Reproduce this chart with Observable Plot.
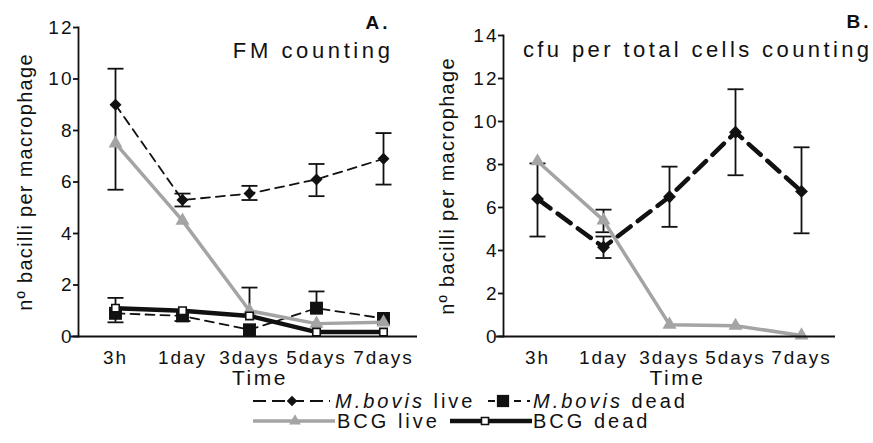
<!DOCTYPE html>
<html><head><meta charset="utf-8">
<script src="https://cdn.jsdelivr.net/npm/d3@7"></script>
<script src="https://cdn.jsdelivr.net/npm/@observablehq/plot@0.6"></script>
<style>
body{margin:0;background:#fff;}
#wrap{position:relative;width:873px;height:443px;overflow:hidden;font-family:"Liberation Sans",Arial,sans-serif;}
#wrap > svg{position:absolute;overflow:visible;}
</style></head><body><div id="wrap"></div>
<script>
// ---------- data ----------
const times = ["3h","1day","3days","5days","7days"];
// Panel A: FM counting
const aBovisLive   = [9.0, 5.3, 5.55, 6.1, 6.9];
const aBovisLiveHi = [10.4, 5.55, 5.85, 6.7, 7.9];
const aBovisLiveLo = [5.7, 5.05, 5.3, 5.45, 5.9];
const aBovisDead   = [0.9, 0.8, 0.26, 1.1, 0.7];
const aBovisDeadHi = [1.5, 1.0, null, 1.75, null];
const aBovisDeadLo = [0.55, 0.6, null, null, null];
const aBcgLive     = [7.5, 4.5, 1.0, 0.5, 0.55];
const aBcgLiveHi   = [null, null, 1.9, null, null];
const aBcgDead     = [1.1, 1.0, 0.8, 0.17, 0.17];
// Panel B: cfu per total cells counting
const bBovisLive   = [6.4, 4.15, 6.5, 9.5, 6.75];
const bBovisLiveHi = [8.05, 4.65, 7.9, 11.5, 8.8];
const bBovisLiveLo = [4.65, 3.65, 5.1, 7.5, 4.8];
const bBcgLive     = [8.15, 5.4, 0.55, 0.5, 0.05];
const bBcgLiveHi   = [null, 5.9, null, null, null];
const bBcgLiveLo   = [null, 4.85, null, null, null];
const yTicksA = [0, 2, 4, 6, 8, 10, 12];
const yTicksB = [0, 2, 4, 6, 8, 10, 12, 14];
const yDomainA = [0, 12];
const yDomainB = [0, 14];
const titleA = ["A.", "FM counting"];
const titleB = ["B.", "cfu per total cells counting"];
const yLabel = "nº bacilli per macrophage";
const xLabel = "Time";
const legendNames = ["M.bovis live", "M.bovis dead", "BCG live", "BCG dead"];

// ---------- styles ----------
const FONT = '"Liberation Sans", Arial, Helvetica, sans-serif';
const INK = "#111";
const GREY = "#a4a4a4";
const sBovisLiveA = {stroke: INK, strokeWidth: 1.8, strokeDasharray: "9,6"};
const sBovisLiveB = {stroke: INK, strokeWidth: 4.5, strokeDasharray: "16,9"};
const sBovisDead  = {stroke: INK, strokeWidth: 1.8, strokeDasharray: "9,6"};
const sBcgLive    = {stroke: GREY, strokeWidth: 3.5};
const sBcgDead    = {stroke: INK, strokeWidth: 4.5};

const cap = {draw(ctx) { ctx.moveTo(-8, 0); ctx.lineTo(8, 0); }};

function rows(vals) { return times.map((t, i) => ({t, v: vals[i]})); }
function errMarks(vals, hi, lo) {
  const bars = [], caps = [];
  times.forEach((t, i) => {
    const h = hi && hi[i] != null ? hi[i] : null;
    const l = lo && lo[i] != null ? lo[i] : null;
    if (h == null && l == null) return;
    bars.push({t, hi: h ?? vals[i], lo: l ?? vals[i]});
    if (h != null) caps.push({t, v: h});
    if (l != null) caps.push({t, v: l});
  });
  return [
    Plot.ruleX(bars, {x: "t", y1: "lo", y2: "hi", stroke: INK, strokeWidth: 1.8}),
    Plot.dot(caps, {x: "t", y: "v", symbol: cap, r: 5, stroke: INK, strokeWidth: 1.8, fill: "none"})
  ];
}
function axes(ticks, labelDx, timeDx) {
  return [
    Plot.axisY(ticks, {tickSize: 5, tickPadding: 0, fontSize: 19, label: null, stroke: INK, strokeWidth: 1.8, fill: INK}),
    Plot.axisX({tickSize: 0, tickPadding: 14, fontSize: 19, label: null, fill: INK}),
    Plot.frame({anchor: "left", stroke: INK, strokeWidth: 1.8}),
    Plot.ruleY([0], {stroke: INK, strokeWidth: 1.8, insetLeft: -7}),
    Plot.text([yLabel], {frameAnchor: "left", rotate: -90, dx: labelDx, textAnchor: "middle", lineAnchor: "middle", fontSize: 20, fill: INK}),
    Plot.text([xLabel], {frameAnchor: "bottom", dx: timeDx, dy: 48, lineAnchor: "bottom", fontSize: 21, fill: INK})
  ];
}

const wrap = document.getElementById("wrap");

// ---------- panel A ----------
const plotA = Plot.plot({
  width: 430, height: 392,
  marginLeft: 78, marginRight: 13, marginTop: 27, marginBottom: 56,
  style: {fontFamily: FONT, background: "transparent", overflow: "visible"},
  x: {type: "point", domain: times, range: [114, 383], padding: 0},
  y: {domain: yDomainA, range: [336, 27]},
  marks: [
    ...errMarks(aBovisLive, aBovisLiveHi, aBovisLiveLo),
    Plot.line(rows(aBovisLive), {x: "t", y: "v", ...sBovisLiveA}),
    Plot.dot(rows(aBovisLive), {x: "t", y: "v", symbol: "diamond2", r: 5.4, fill: INK, stroke: "none"}),
    ...errMarks(aBovisDead, aBovisDeadHi, aBovisDeadLo),
    Plot.line(rows(aBovisDead), {x: "t", y: "v", ...sBovisDead}),
    Plot.dot(rows(aBovisDead), {x: "t", y: "v", symbol: "square", r: 7.3, fill: INK, stroke: "none"}),
    ...errMarks(aBcgLive, aBcgLiveHi, null),
    Plot.line(rows(aBcgLive), {x: "t", y: "v", ...sBcgLive}),
    Plot.dot(rows(aBcgLive), {x: "t", y: "v", symbol: "triangle", r: 5.2, fill: GREY, stroke: "none"}),
    Plot.line(rows(aBcgDead), {x: "t", y: "v", ...sBcgDead}),
    Plot.dot(rows(aBcgDead), {x: "t", y: "v", symbol: "square", r: 4.2, fill: "#fff", stroke: INK, strokeWidth: 1.6}),
    ...axes(yTicksA, -53, 12),
    Plot.text([titleA[0]], {frameAnchor: "top-right", dx: -27, dy: 1, lineAnchor: "bottom", fontSize: 19, fontWeight: "bold", fill: INK}),
    Plot.text([titleA[1]], {frameAnchor: "top-right", dx: -24, dy: 30, lineAnchor: "bottom", fontSize: 22, fill: INK})
  ]
});
plotA.style.left = "0px"; plotA.style.top = "0px";
wrap.appendChild(plotA);

// ---------- panel B ----------
const plotB = Plot.plot({
  width: 443, height: 392,
  marginLeft: 73, marginRight: 38, marginTop: 35, marginBottom: 56,
  style: {fontFamily: FONT, background: "transparent", overflow: "visible"},
  x: {type: "point", domain: times, range: [107, 371], padding: 0},
  y: {domain: yDomainB, range: [336, 35]},
  marks: [
    ...errMarks(bBovisLive, bBovisLiveHi, bBovisLiveLo),
    ...errMarks(bBcgLive, bBcgLiveHi, bBcgLiveLo),
    Plot.line(rows(bBcgLive), {x: "t", y: "v", ...sBcgLive}),
    Plot.dot(rows(bBcgLive), {x: "t", y: "v", symbol: "triangle", r: 5.2, fill: GREY, stroke: "none"}),
    Plot.line(rows(bBovisLive), {x: "t", y: "v", ...sBovisLiveB}),
    Plot.dot(rows(bBovisLive), {x: "t", y: "v", symbol: "diamond2", r: 5.8, fill: INK, stroke: "none"}),
    ...axes(yTicksB, -56, 8),
    Plot.text([titleB[0]], {frameAnchor: "top-right", dx: 36, dy: -8, lineAnchor: "bottom", fontSize: 19, fontWeight: "bold", fill: INK}),
    Plot.text([titleB[1]], {frameAnchor: "top-right", dx: 37, dy: 21, lineAnchor: "bottom", fontSize: 22, fill: INK})
  ]
});
plotB.style.left = "430px"; plotB.style.top = "0px";
wrap.appendChild(plotB);

// letter spacing to match the reference's wide lettering
const spacing = new Map([
  [titleA[1], 3.6], [titleB[1], 3.4], [titleA[0], 3], [titleB[0], 3],
  [yLabel, 1.3], [xLabel, 2.5]
]);
d3.select(wrap).selectAll("svg text").each(function() {
  const s = this.textContent;
  this.style.letterSpacing = (spacing.has(s) ? spacing.get(s) : 2) + "px";
});

// ---------- legend ----------
const legendItems = [
  {name: legendNames[0], italic: "M.bovis", rest: " live", row: 0, x0: 253, x1: 330, sym: d3.symbolDiamond2, size: 70, fill: INK, stroke: "none", style: {...sBovisLiveA, strokeDasharray: "13,6"}, mx: 292, tx: 335},
  {name: legendNames[1], italic: "M.bovis", rest: " dead", row: 0, x0: 488, x1: 530, sym: d3.symbolSquare, size: 150, fill: INK, stroke: "none", style: {...sBovisDead, strokeDasharray: "7,6"}, mx: 503, tx: 533},
  {name: legendNames[2], italic: "", rest: "BCG live", row: 1, x0: 253, x1: 335, sym: d3.symbolTriangle, size: 60, fill: GREY, stroke: "none", style: sBcgLive, mx: 295, tx: 337},
  {name: legendNames[3], italic: "", rest: "BCG dead", row: 1, x0: 450, x1: 532, sym: d3.symbolSquare, size: 50, fill: "#fff", stroke: INK, style: sBcgDead, mx: 485, tx: 533}
];
const leg = d3.select(wrap).append("svg").attr("id", "legend")
  .attr("width", 873).attr("height", 53)
  .style("left", "0px").style("top", "390px")
  .style("font-family", FONT).style("font-size", "20px").style("letter-spacing", "3px");
legendItems.forEach(d => {
  const base = d.row === 0 ? 18 : 38;
  const ly = base - 7;
  leg.append("line").attr("x1", d.x0).attr("x2", d.x1).attr("y1", ly).attr("y2", ly)
    .attr("stroke", d.style.stroke).attr("stroke-width", d.style.strokeWidth)
    .attr("stroke-dasharray", d.style.strokeDasharray || null);
  leg.append("path").attr("d", d3.symbol(d.sym, d.size)())
    .attr("transform", `translate(${d.mx},${ly})`)
    .attr("fill", d.fill).attr("stroke", d.stroke).attr("stroke-width", 1.6);
  const t = leg.append("text").attr("x", d.tx).attr("y", base).attr("fill", INK);
  if (d.italic) t.append("tspan").attr("font-style", "italic").text(d.italic);
  t.append("tspan").text(d.rest);
});
</script>
</body></html>
